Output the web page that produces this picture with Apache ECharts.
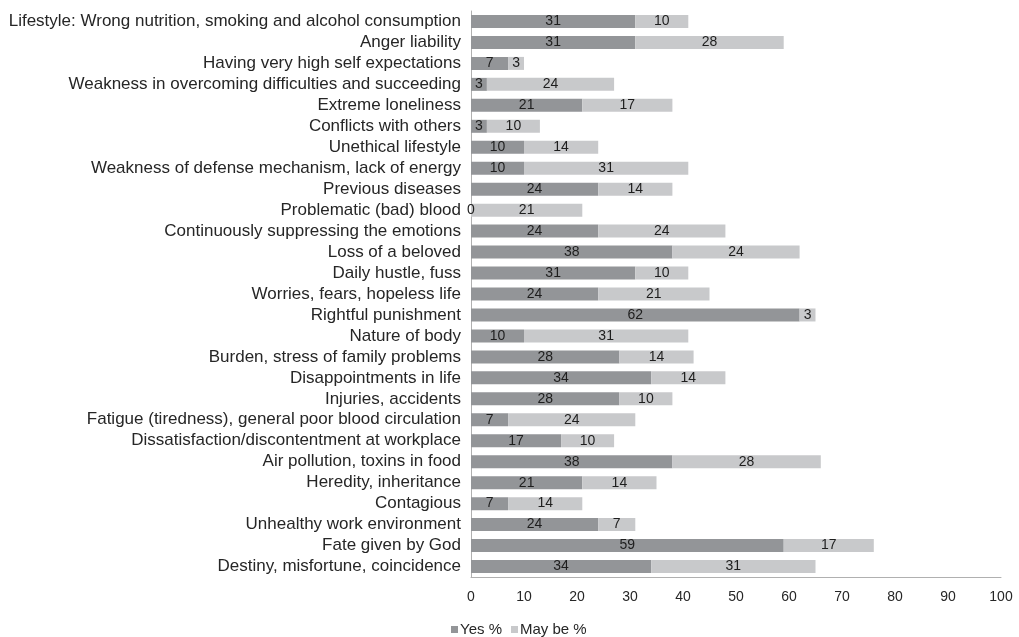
<!DOCTYPE html>
<html>
	<head>
		<meta charset="UTF-8">
		<title>Causes</title>
		<script type="text/javascript" src="https://cdn.jsdelivr.net/npm/echarts@6/dist/echarts.min.js"></script>
		<style>
			html,body{margin:0;padding:0;background:#fff;}
		</style>
	</head>
	<body>
		<div id="main" style="width: 1019px;height: 637px;"></div>
		<script type="text/javascript">
			// categories, top to bottom
			var categories=[
				'Lifestyle: Wrong nutrition, smoking and alcohol consumption',
				'Anger liability',
				'Having very high self expectations',
				'Weakness in overcoming difficulties and succeeding',
				'Extreme loneliness',
				'Conflicts with others',
				'Unethical lifestyle',
				'Weakness of defense mechanism, lack of energy',
				'Previous diseases',
				'Problematic (bad) blood',
				'Continuously suppressing the emotions',
				'Loss of a beloved',
				'Daily hustle, fuss',
				'Worries, fears, hopeless life',
				'Rightful punishment',
				'Nature of body',
				'Burden, stress of family problems',
				'Disappointments in life',
				'Injuries, accidents',
				'Fatigue (tiredness), general poor blood circulation',
				'Dissatisfaction/discontentment at workplace',
				'Air pollution, toxins in food',
				'Heredity, inheritance',
				'Contagious',
				'Unhealthy work environment',
				'Fate given by God',
				'Destiny, misfortune, coincidence'
			];
			var yesPct=[31,31,7,3,21,3,10,10,24,0,24,38,31,24,62,10,28,34,28,7,17,38,21,7,24,59,34];
			var maybePct=[10,28,3,24,17,10,14,31,14,21,24,24,10,21,3,31,14,14,10,24,10,28,14,14,7,17,31];
			var xTicks=[0,10,20,30,40,50,60,70,80,90,100];

			var myChart=echarts.init(document.getElementById('main'));
			var font='"Liberation Sans", Arial, sans-serif';

			var option={
				animation:false,
				textStyle:{fontFamily:font},
				legend:{
					left:446,
					top:617,
					itemWidth:7,
					itemHeight:7,
					itemGap:9,
					icon:'rect',
					textStyle:{fontSize:15,color:'#262626',fontFamily:font,padding:[0,0,0,-3]},
					data:['Yes %','May be %']
				},
				grid:{
					left:471,
					right:18,
					top:11,
					bottom:60,
					containLabel:false
				},
				xAxis:{
					type:'value',
					min:xTicks[0],
					max:xTicks[xTicks.length-1],
					interval:10,
					axisLine:{show:true,lineStyle:{color:'#b0b0b0',width:1}},
					axisTick:{show:false},
					splitLine:{show:false},
					axisLabel:{color:'#262626',fontSize:14,margin:13,fontFamily:font}
				},
				yAxis:{
					type:'category',
					inverse:true,
					data:categories,
					axisLine:{show:true,lineStyle:{color:'#b0b0b0',width:1}},
					axisTick:{show:false},
					axisLabel:{color:'#262626',fontSize:17,margin:10,interval:0,fontFamily:font}
				},
				series:[
					{
						name:'Yes %',
						type:'bar',
						stack:'total',
						barWidth:13,
						itemStyle:{color:'#939598'},
						label:{show:true,position:'inside',color:'#1e1e1e',fontSize:14,fontFamily:font},
						data:yesPct
					},
					{
						name:'May be %',
						type:'bar',
						stack:'total',
						barWidth:13,
						itemStyle:{color:'#c8c9cb'},
						label:{show:true,position:'inside',color:'#1e1e1e',fontSize:14,fontFamily:font},
						data:maybePct
					}
				]
			};

			myChart.setOption(option);
		</script>
	</body>
</html>
